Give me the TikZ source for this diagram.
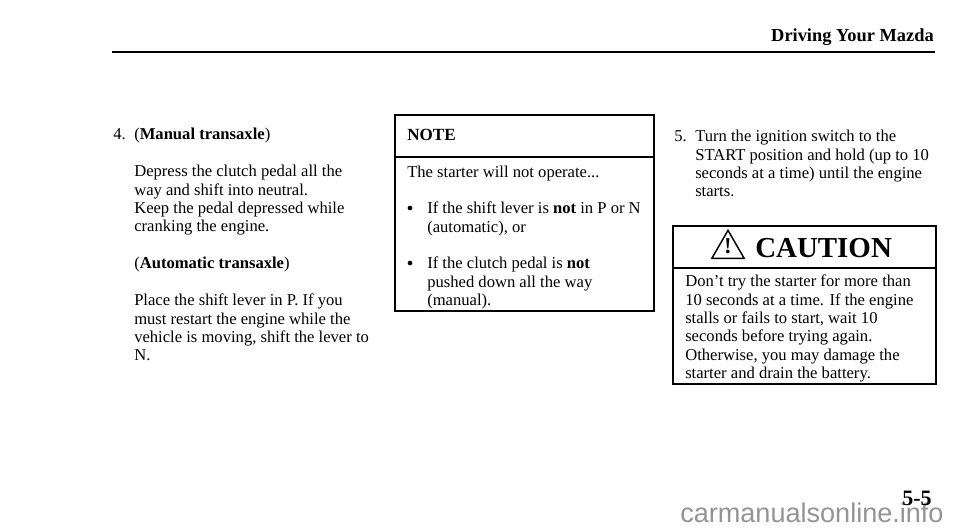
\documentclass[tikz,border=0pt]{standalone}
\usepackage{fontspec}
\setmainfont{Liberation Serif}
\newfontfamily\markfont{Liberation Sans}
\usetikzlibrary{shapes.geometric}
\tikzset{
	bodytext/.style={anchor=north west,inner sep=0pt,align=left,font=\fontsize{12.45pt}{13.7pt}\selectfont},
	headtext/.style={anchor=west,inner sep=0pt,font=\fontsize{12.8pt}{14pt}\selectfont\bfseries},
	boxline/.style={black,line width=1pt},
}
\begin{document}
\begin{tikzpicture}[x=0.75pt,y=-0.75pt]
	\useasboundingbox[fill=white] (0,0) rectangle (960,531);
	% page header
	\coordinate (ruleleft) at (112,52);
	\coordinate (ruleright) at (935,52);
	\draw[black,line width=0.8pt](ruleleft)--(ruleright);
	\node[anchor=east,inner sep=0pt,font=\fontsize{13.8pt}{15pt}\selectfont\bfseries](title) at (934,37){Driving Your Mazda};
	% left column
	\node[bodytext](stepfour) at (113,128){4.};
	\node[bodytext](manual) at (134,128){(\textbf{Manual transaxle})};
	\node[bodytext](clutch) at (134,165){Depress the clutch pedal all the\\way and shift into neutral.\\Keep the pedal depressed while\\cranking the engine.};
	\node[bodytext](auto) at (134,257){(\textbf{Automatic transaxle})};
	\node[bodytext](place) at (134,294){Place the shift lever in P. If you\\must restart the engine while the\\vehicle is moving, shift the lever to\\N.};
	% note box
	\draw[boxline](395,115) rectangle (654,311);
	\coordinate (noteleft) at (395,157);
	\coordinate (noteright) at (654,157);
	\draw[boxline](noteleft)--(noteright);
	\node[headtext](note) at (407,135){NOTE};
	\node[bodytext](starter) at (407,166){The starter will not operate...};
	\node[circle,fill=black,inner sep=0pt,minimum size=3.5pt](bulletone) at (410,208){};
	\node[bodytext](leverone) at (427,202){If the shift lever is \textbf{not} in P or N\\(automatic), or};
	\node[circle,fill=black,inner sep=0pt,minimum size=3.5pt](bullettwo) at (410,263){};
	\node[bodytext](pedal) at (427,257){If the clutch pedal is \textbf{not}\\pushed down all the way\\(manual).};
	% right column
	\node[bodytext](stepfive) at (674,130){5.};
	\node[bodytext](turn) at (695,130){Turn the ignition switch to the\\START position and hold (up to 10\\seconds at a time) until the engine\\starts.};
	% caution box
	\draw[boxline](673,226) rectangle (936,384);
	\coordinate (cautionleft) at (673,268);
	\coordinate (cautionright) at (936,268);
	\draw[boxline](cautionleft)--(cautionright);
	\node[anchor=west,inner sep=0pt,font=\fontsize{21.7pt}{25pt}\selectfont\bfseries](caution) at (755,248){CAUTION};
	\node[draw=black,line width=1.1pt,regular polygon,regular polygon sides=3,inner sep=0pt,minimum size=28pt](warn) at (728,249){};
	\node[inner sep=0pt,font=\fontsize{17pt}{17pt}\selectfont\bfseries](warnmark) at (728,246.5){!};
	\node[bodytext](dont) at (685,275){Don’t try the starter for more than\\10 seconds at a time. If the engine\\stalls or fails to start, wait 10\\seconds before trying again.\\Otherwise, you may damage the\\starter and drain the battery.};
	% page number
	\node[anchor=base west,inner sep=0pt,text=black!42,font=\fontsize{20.3pt}{22pt}\markfont](site) at (680,522){carmanualsonline.info};
	\node[anchor=east,inner sep=0pt,font=\fontsize{16.5pt}{18pt}\selectfont\bfseries](page) at (932,498){5-5};
\end{tikzpicture}
\end{document}
